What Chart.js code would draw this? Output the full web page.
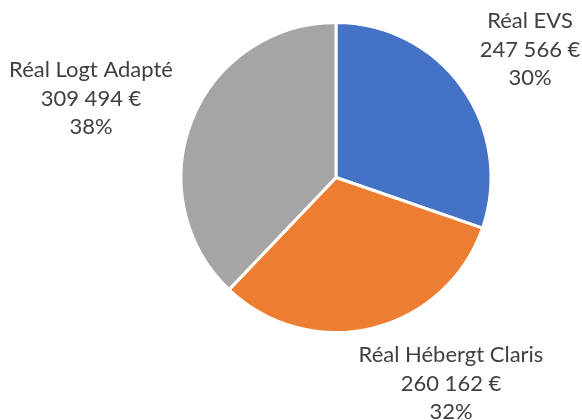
<!DOCTYPE html>
<html lang="fr">
<head>
    <meta charset="UTF-8">
    <title>Réalisé par poste</title>
    <style>
        html, body {
            margin: 0;
            padding: 0;
            background: #ffffff;
        }
        .wrap {
            width: 582px;
            height: 420px;
        }
    </style>
</head>
<body>
    <div class="wrap">
        <canvas id="pieChart" width="582" height="420"></canvas>
    </div>

    <script src="https://cdn.jsdelivr.net/npm/chart.js"></script>
    <script>
    // Data
    const categories = ['Réal EVS', 'Réal Hébergt Claris', 'Réal Logt Adapté'];
    const amounts = [247566, 260162, 309494];
    const sliceColors = ['#4472C4', '#ED7D31', '#A5A5A5'];

    // where each label block sits (x centre, baseline of first line)
    const labelSpots = [
        { x: 530, y: 28 },
        { x: 451, y: 362 },
        { x: 91, y: 77 }
    ];

    function formatEuro(v) {
        return String(v).replace(/\B(?=(\d{3})+(?!\d))/g, ' ') + ' €';
    }

    // Draws the category / value / percent labels outside the slices
    const outsideLabels = {
        id: 'outsideLabels',
        afterDraw(chart) {
            const ctx = chart.ctx;
            const values = chart.data.datasets[0].data;
            const total = values.reduce((a, b) => a + b, 0);
            ctx.save();
            ctx.font = '22px Lato';
            ctx.fillStyle = '#404040';
            ctx.textAlign = 'center';
            ctx.textBaseline = 'alphabetic';
            chart.getDatasetMeta(0).data.forEach((arc, i) => {
                const spot = labelSpots[i];
                const lines = [
                    chart.data.labels[i],
                    formatEuro(values[i]),
                    Math.round(values[i] / total * 100) + '%'
                ];
                lines.forEach((line, j) => {
                    ctx.fillText(line, spot.x, spot.y + j * 28.5);
                });
            });
            ctx.restore();
        }
    };

    new Chart(document.getElementById('pieChart').getContext('2d'), {
        type: 'pie',
        data: {
            labels: categories,
            datasets: [{
                data: amounts,
                backgroundColor: sliceColors,
                borderColor: '#ffffff',
                borderWidth: 3
            }]
        },
        options: {
            responsive: false,
            animation: false,
            layout: {
                padding: { top: 21, bottom: 86, left: 179, right: 89 }
            },
            plugins: {
                legend: { display: false },
                tooltip: { enabled: false }
            }
        },
        plugins: [outsideLabels]
    });
    </script>
</body>
</html>
